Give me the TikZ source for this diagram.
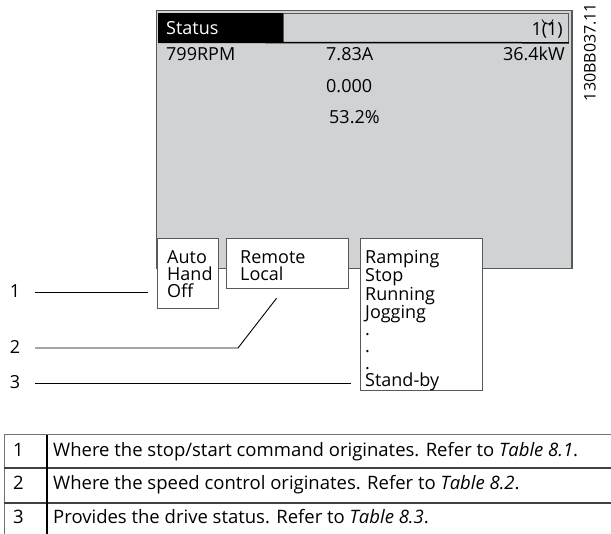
\documentclass[tikz,border=0pt]{standalone}
\usepackage{fontspec}
\setmainfont{Open Sans}
\usetikzlibrary{positioning,calc}
\definecolor{lcdgray}{HTML}{D1D2D4}
\definecolor{framegray}{HTML}{58595B}
\tikzset{
  lcdfont/.style={font=\fontsize{18}{17}\selectfont},
  lcdtext/.style={lcdfont, inner sep=0pt, anchor=base west},
  statebox/.style={
    draw=framegray,
    fill=white,
    line width=1.2pt,
    anchor=north west,
    inner sep=0pt
  },
  boxtext/.style={lcdfont, align=left, inner sep=0pt},
  callout/.style={line width=0.9pt},
  calloutnum/.style={font=\fontsize{18}{17}\selectfont, inner sep=0pt, anchor=base},
  tabletext/.style={font=\fontsize{18.5}{17}\selectfont, inner sep=0pt, anchor=base west},
  tablerule/.style={draw=black!75, line width=1.3pt}
}

\begin{document}
\begin{tikzpicture}[x=1pt,y=-1pt]
  \useasboundingbox (0,0) rectangle (611,534);

  % display
  \node[draw=framegray, line width=1.5pt, fill=lcdgray, minimum width=415.5pt,
        minimum height=258pt, anchor=north west, inner sep=0pt] (lcd) at (155.5,10) {};
  \node[fill=black, minimum width=125pt, minimum height=29pt, anchor=north west,
        inner sep=0pt] (hdr) at (158,13) {};
  \node[draw=framegray, line width=0.8pt, minimum width=285pt, minimum height=29pt,
        anchor=north west, inner sep=0pt] (hdrright) at (283,13) {};
  \draw[line width=1.5pt] (hdr.south west) -- (hdrright.south east);
  \node[lcdtext, text=white] (status) at (166,35) {Status};
  \node[lcdtext, anchor=base east] (menu) at (563,36) {1(1)};
  \draw[line width=0.8pt] (542,19.5) arc[start angle=170, end angle=10, radius=5.6];

  \node[lcdtext] (speed) at (166,61) {799RPM};
  \node[lcdtext] (current) at (326,61) {7.83A};
  \node[lcdtext, anchor=base east] (power) at (565,61) {36.4kW};
  \node[lcdtext] (ref) at (326,93) {0.000};
  \node[lcdtext] (load) at (329,124) {53.2\%};

  \node[font=\fontsize{16}{16}\selectfont, rotate=90, inner sep=0pt] (code) at (590,52) {130BB037.11};

  % status line boxes
  \node[statebox, minimum width=61pt, minimum height=70pt] (mode) at (157,238) {};
  \node[boxtext, below right=12pt and 10pt of mode.north west] (modetxt) {Auto\\Hand\\Off};
  \node[statebox, minimum width=122pt, minimum height=50pt] (ref) at (226,238) {};
  \node[boxtext, below right=12pt and 14pt of ref.north west] (reftxt) {Remote\\Local};
  \node[statebox, minimum width=122pt, minimum height=152pt] (state) at (360,238) {};
  \node[boxtext, below right=12pt and 5pt of state.north west] (statetxt)
    {Ramping\\Stop\\Running\\Jogging\\.\\.\\.\\Stand-by};

  % callouts
  \node[calloutnum] (c1) at (15,298) {1};
  \node[calloutnum] (c2) at (15,354) {2};
  \node[calloutnum] (c3) at (15,389) {3};
  \coordinate (p1) at (148,292);
  \coordinate (p2) at (238,348);
  \coordinate (p3) at (351,383);
  \draw[callout] (35,292) -- (p1);
  \draw[callout] (35,348) -- (p2) -- ($(ref.south)+(-11,9)$);
  \draw[callout] (35,383) -- (p3);

  % table
  \draw[draw=black!55, line width=1pt] (4,435) -- (611,435);
  \draw[draw=black!55, line width=1pt] (4,435) -- (4,534);
  \draw[tablerule] (4,468) -- (611,468);
  \draw[tablerule] (4,503) -- (611,503);
  \draw[line width=2pt] (47,435) -- (47,534);
  \node[tabletext] (n1) at (13,457) {1};
  \node[tabletext] (n2) at (13,490) {2};
  \node[tabletext] (n3) at (13,524) {3};
  \node[tabletext] (t1) at (53,457) {Where the stop/start command originates. Refer to \textit{Table 8.1}.};
  \node[tabletext] (t2) at (53,490) {Where the speed control originates. Refer to \textit{Table 8.2}.};
  \node[tabletext] (t3) at (53,524) {Provides the drive status. Refer to \textit{Table 8.3}.};
\end{tikzpicture}
\end{document}
